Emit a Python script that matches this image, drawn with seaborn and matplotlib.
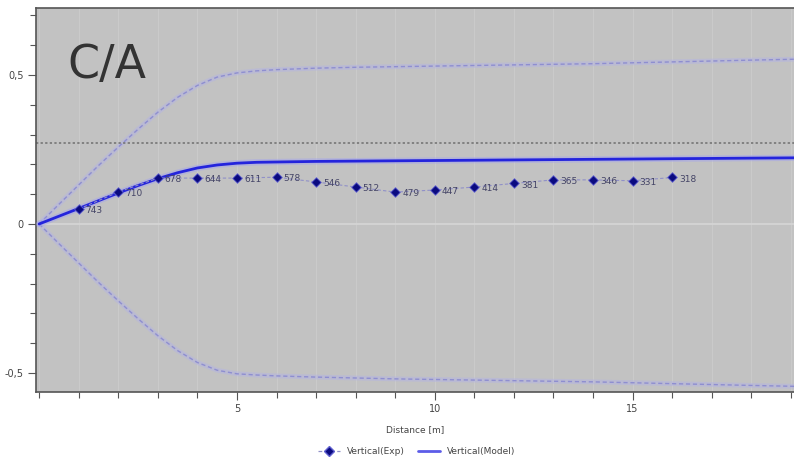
import numpy as np
import pandas as pd
import matplotlib
matplotlib.use("Agg")
import matplotlib.pyplot as plt
from matplotlib.lines import Line2D
from matplotlib.ticker import MultipleLocator, FixedLocator
import seaborn as sns

# Measured vertical C/A ratio along the section, with point labels
exp_distance = [1, 2, 3, 4, 5, 6, 7, 8, 9, 10, 11, 12, 13, 14, 15, 16]
exp_value = [0.050, 0.107, 0.154, 0.154, 0.154, 0.157, 0.141, 0.124, 0.107,
             0.114, 0.124, 0.136, 0.148, 0.148, 0.145, 0.156]
exp_labels = ["743", "710", "678", "644", "611", "578", "546", "512", "479",
              "447", "414", "381", "365", "346", "331", "318"]

# Model curve and its envelope
model_distance = [0, 0.5, 1, 1.5, 2, 2.5, 3, 3.5, 4, 4.5, 5, 5.5, 6, 7, 8, 9, 10,
                  11, 12, 13, 14, 15, 16, 17, 18, 19.1]
model_value = [0.0, 0.026, 0.052, 0.078, 0.104, 0.129, 0.152, 0.172, 0.188, 0.198,
               0.204, 0.207, 0.208, 0.210, 0.211, 0.212, 0.213, 0.214, 0.215,
               0.216, 0.217, 0.218, 0.219, 0.220, 0.221, 0.222]
upper_bound = [0.0, 0.066, 0.131, 0.196, 0.258, 0.318, 0.375, 0.425, 0.465, 0.493,
               0.507, 0.514, 0.518, 0.523, 0.526, 0.528, 0.530, 0.532, 0.534,
               0.536, 0.538, 0.541, 0.544, 0.547, 0.550, 0.553]
lower_bound = [0.0, -0.066, -0.131, -0.196, -0.258, -0.318, -0.375, -0.425, -0.465,
               -0.491, -0.503, -0.507, -0.510, -0.514, -0.517, -0.520, -0.522,
               -0.524, -0.526, -0.528, -0.530, -0.533, -0.536, -0.539, -0.542, -0.545]
threshold = 0.272

y_tick_values = [-0.5, 0.0, 0.5]
y_tick_labels = ["-0,5", "0", "0,5"]
x_tick_values = [5, 10, 15]
x_tick_labels = ["5", "10", "15"]

sns.set_style("white", {"axes.facecolor": "#c2c2c2"})
plt.rcParams["font.family"] = ["DejaVu Sans"]

fig = plt.figure(figsize=(7.94, 4.59), dpi=100)
ax = fig.add_axes([0.0453, 0.146, 0.9547, 0.8366])

model_df = pd.DataFrame({"Distance": model_distance, "Model": model_value,
                         "Upper": upper_bound, "Lower": lower_bound})
exp_df = pd.DataFrame({"Distance": exp_distance, "Exp": exp_value})

# faint grid
for xv in range(0, 20):
    ax.axvline(xv, color="#cacaca", lw=0.8, zorder=0)
ax.axhline(0, color="#d6d6d6", lw=1.2, zorder=0)

# envelope curves (soft halo + dashed core)
for col in ["Upper", "Lower"]:
    sns.lineplot(data=model_df, x="Distance", y=col, ax=ax, color="#b4b4e4",
                 lw=3.5, alpha=0.5, zorder=1, legend=False)
    sns.lineplot(data=model_df, x="Distance", y=col, ax=ax, color="#8e8ed0",
                 lw=1.0, dashes=(3, 2), zorder=2, legend=False)

ax.axhline(threshold, color="#6f6f6f", lw=1.1, ls=(0, (1.5, 1.5)), zorder=2)

# model curve
sns.lineplot(data=model_df, x="Distance", y="Model", ax=ax, color="#a4a4ee",
             lw=4.5, alpha=0.5, zorder=3, legend=False)
sns.lineplot(data=model_df, x="Distance", y="Model", ax=ax, color="#2424dc",
             lw=2.0, zorder=4, legend=False)

# experimental series
sns.lineplot(data=exp_df, x="Distance", y="Exp", ax=ax, color="#9090c8",
             lw=0.8, dashes=(3, 2), zorder=5, legend=False)
sns.scatterplot(data=exp_df, x="Distance", y="Exp", ax=ax, marker="D", s=24,
                color="#0a0a80", edgecolor="#6060d0", linewidth=0.6, zorder=6,
                legend=False)
for xv, yv, lab in zip(exp_distance, exp_value, exp_labels):
    ax.annotate(lab, (xv, yv), xytext=(5, -3), textcoords="offset points",
                fontsize=6.5, color="#444466", zorder=7)

ax.text(0.041, 0.91, "C/A", transform=ax.transAxes, fontsize=33,
        color="#333333", va="top", ha="left")

ax.set_xlim(-0.08, 19.08)
ax.set_ylim(-0.564, 0.725)
ax.set_xlabel("Distance [m]", fontsize=6.5, color="#444444", labelpad=8)
ax.set_ylabel("")

ax.xaxis.set_major_locator(FixedLocator(x_tick_values))
ax.set_xticklabels(x_tick_labels)
ax.xaxis.set_minor_locator(MultipleLocator(1))
ax.yaxis.set_major_locator(FixedLocator(y_tick_values))
ax.set_yticklabels(y_tick_labels)
ax.yaxis.set_minor_locator(MultipleLocator(0.1))
ax.tick_params(axis="both", which="major", direction="out", length=6, width=0.8,
               color="#555555", labelsize=7, labelcolor="#444444", pad=3)
ax.tick_params(axis="both", which="minor", direction="out", length=4, width=0.8,
               color="#555555")
ax.tick_params(axis="x", which="both", bottom=True)
ax.tick_params(axis="y", which="both", left=True)

for side in ["left", "bottom", "top"]:
    ax.spines[side].set_color("#555555")
    ax.spines[side].set_linewidth(1.2)
ax.spines["right"].set_visible(False)

handles = [
    Line2D([0], [0], color="#9090c8", lw=0.9, ls=(0, (3, 2)), marker="D",
           markersize=5, markerfacecolor="#0a0a80", markeredgecolor="#6060d0"),
    Line2D([0], [0], color="#5c5ce8", lw=2),
]
fig.legend(handles, ["Vertical(Exp)", "Vertical(Model)"], loc="center",
           bbox_to_anchor=(0.525, 0.017), ncol=2, frameon=False, fontsize=6.5,
           handlelength=2.4, columnspacing=1.5, labelcolor="#444444")

fig.savefig("out.png", dpi=100, facecolor="white")
